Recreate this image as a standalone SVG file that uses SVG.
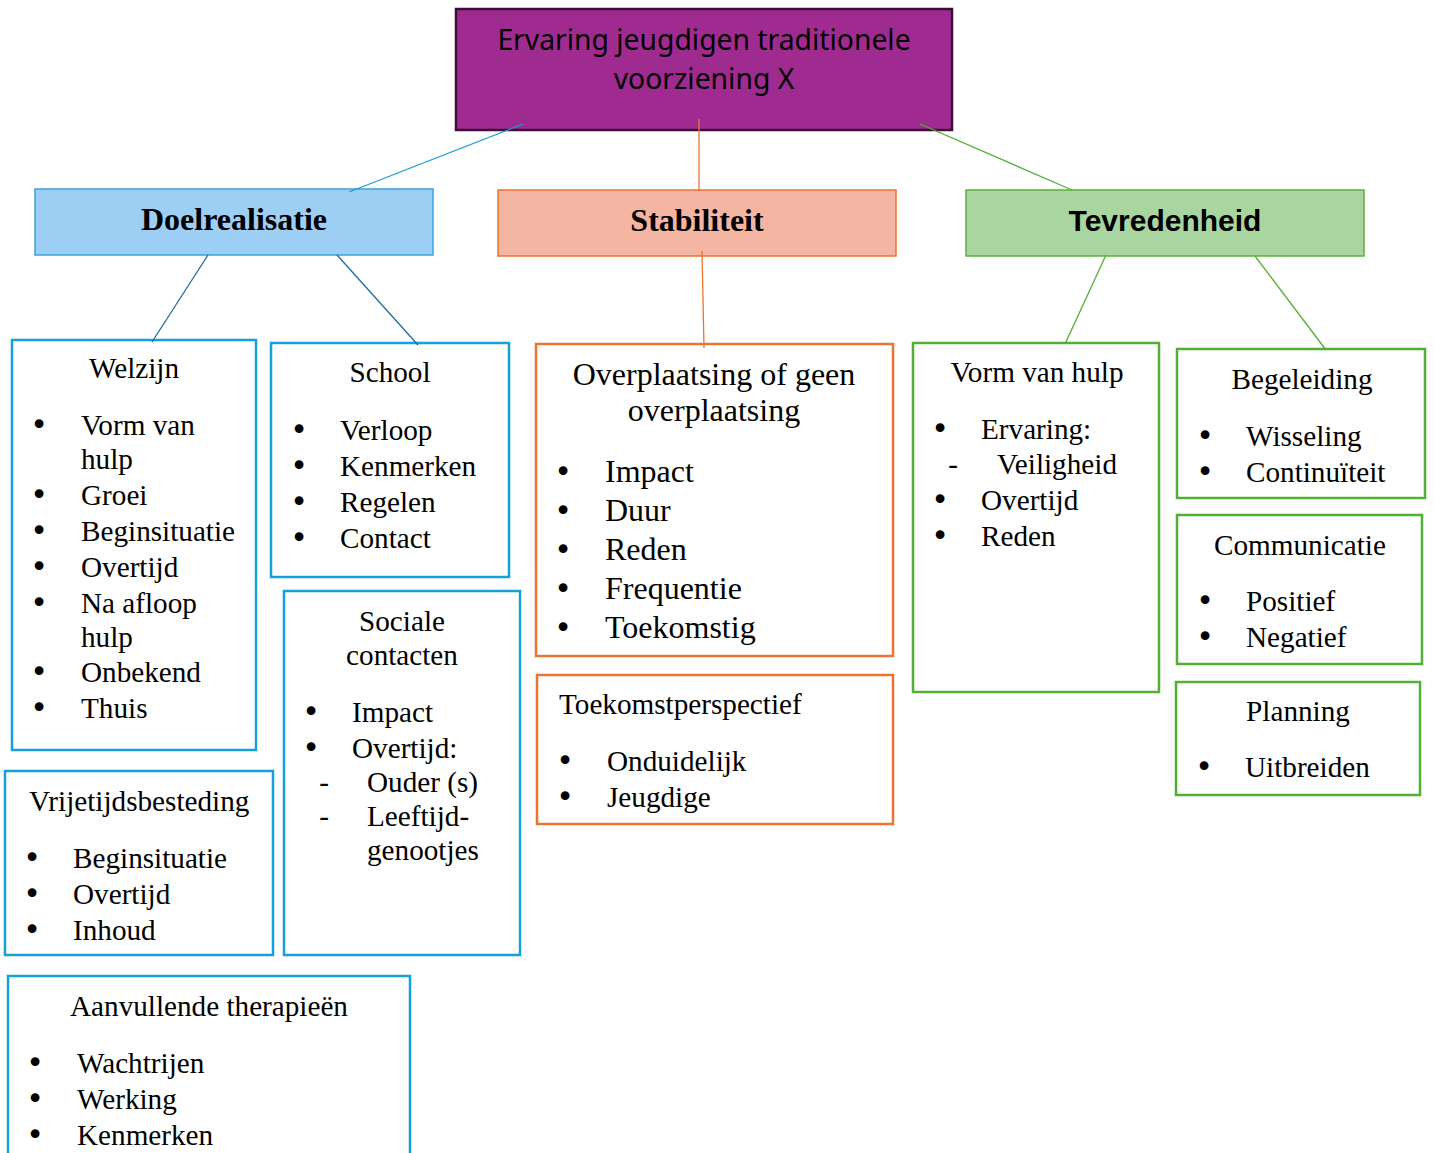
<svg xmlns="http://www.w3.org/2000/svg" width="1435" height="1153" viewBox="0 0 1435 1153">
<style>
.box{fill:#fff;stroke-width:2.5}
.b{stroke:#16A0D8}
.o{stroke:#EC7432}
.g{stroke:#53AE35}
.t{font-family:"Liberation Serif","Times New Roman",serif;font-size:29.2px;fill:#000}
.big{font-size:32px}
.c{text-anchor:middle}
.bu{font-family:"DejaVu Sans",sans-serif;font-size:30px;text-anchor:middle}
.hd{font-family:"Liberation Serif","Times New Roman",serif;font-size:32px;font-weight:bold;text-anchor:middle}
.conn line{stroke-width:1.3;fill:none}
</style>
<rect width="1435" height="1153" fill="#fff"/>
<g id="root">
<rect x="456" y="9" width="496" height="121" fill="#A02B90" stroke="#3D0F38" stroke-width="2.5"/>
<text x="704" y="50" text-anchor="middle" font-family="'Noto Sans','Open Sans',sans-serif" font-size="28.3">Ervaring jeugdigen traditionele</text>
<text x="704" y="89" text-anchor="middle" font-family="'Noto Sans','Open Sans',sans-serif" font-size="28.3">voorziening X</text>
</g>
<g id="doelrealisatie">
<rect x="35" y="189" width="398" height="66" fill="#9DCFF5" stroke="#3BA3DC" stroke-width="1.5"/>
<text class="hd" x="234" y="230">Doelrealisatie</text>
</g>
<g id="stabiliteit">
<rect x="498" y="190" width="398" height="66" fill="#F4B6A2" stroke="#EC7432" stroke-width="1.5"/>
<text class="hd" x="697" y="231">Stabiliteit</text>
</g>
<g id="tevredenheid">
<rect x="966" y="190" width="398" height="66" fill="#A9D5A0" stroke="#5DB13E" stroke-width="1.5"/>
<text x="1165" y="231" text-anchor="middle" font-family="'Liberation Sans',Arial,sans-serif" font-size="30" font-weight="bold">Tevredenheid</text>
</g>
<g id="welzijn" class="t">
<rect class="box b" x="12" y="340" width="244" height="410"/>
<text class="c" x="134" y="378">Welzijn</text>
<text class="bu" x="39" y="435">•</text><text x="81" y="435">Vorm van</text>
<text x="81" y="469">hulp</text>
<text class="bu" x="39" y="505">•</text><text x="81" y="505">Groei</text>
<text class="bu" x="39" y="541">•</text><text x="81" y="541">Beginsituatie</text>
<text class="bu" x="39" y="577">•</text><text x="81" y="577">Overtijd</text>
<text class="bu" x="39" y="613">•</text><text x="81" y="613">Na afloop</text>
<text x="81" y="647">hulp</text>
<text class="bu" x="39" y="682">•</text><text x="81" y="682">Onbekend</text>
<text class="bu" x="39" y="718">•</text><text x="81" y="718">Thuis</text>
</g>
<g id="school" class="t">
<rect class="box b" x="271" y="343" width="238" height="234"/>
<text class="c" x="390" y="382">School</text>
<text class="bu" x="299" y="440">•</text><text x="340" y="440">Verloop</text>
<text class="bu" x="299" y="476">•</text><text x="340" y="476">Kenmerken</text>
<text class="bu" x="299" y="512">•</text><text x="340" y="512">Regelen</text>
<text class="bu" x="299" y="548">•</text><text x="340" y="548">Contact</text>
</g>
<g id="sociale-contacten" class="t">
<rect class="box b" x="284" y="591" width="236" height="364"/>
<text class="c" x="402" y="631">Sociale</text>
<text class="c" x="402" y="665">contacten</text>
<text class="bu" x="311" y="722">•</text><text x="352" y="722">Impact</text>
<text class="bu" x="311" y="758">•</text><text x="352" y="758">Overtijd:</text>
<text class="c" x="324" y="792">-</text><text x="367" y="792">Ouder (s)</text>
<text class="c" x="324" y="826">-</text><text x="367" y="826">Leeftijd-</text>
<text x="367" y="860">genootjes</text>
</g>
<g id="vrijetijdsbesteding" class="t">
<rect class="box b" x="5" y="771" width="268" height="184"/>
<text x="29" y="811">Vrijetijdsbesteding</text>
<text class="bu" x="32" y="868">•</text><text x="73" y="868">Beginsituatie</text>
<text class="bu" x="32" y="904">•</text><text x="73" y="904">Overtijd</text>
<text class="bu" x="32" y="940">•</text><text x="73" y="940">Inhoud</text>
</g>
<g id="aanvullende-therapieen" class="t">
<rect class="box b" x="8" y="976" width="402" height="190"/>
<text x="70" y="1016">Aanvullende therapieën</text>
<text class="bu" x="35" y="1073">•</text><text x="77" y="1073">Wachtrijen</text>
<text class="bu" x="35" y="1109">•</text><text x="77" y="1109">Werking</text>
<text class="bu" x="35" y="1145">•</text><text x="77" y="1145">Kenmerken</text>
</g>
<g id="overplaatsing" class="t big">
<rect class="box o" x="536" y="344" width="357" height="312"/>
<text class="c" x="714" y="385">Overplaatsing of geen</text>
<text class="c" x="714" y="421">overplaatsing</text>
<text class="bu" x="563" y="482">•</text><text x="605" y="482">Impact</text>
<text class="bu" x="563" y="521">•</text><text x="605" y="521">Duur</text>
<text class="bu" x="563" y="560">•</text><text x="605" y="560">Reden</text>
<text class="bu" x="563" y="599">•</text><text x="605" y="599">Frequentie</text>
<text class="bu" x="563" y="638">•</text><text x="605" y="638">Toekomstig</text>
</g>
<g id="toekomstperspectief" class="t">
<rect class="box o" x="537" y="675" width="356" height="149"/>
<text x="559" y="714">Toekomstperspectief</text>
<text class="bu" x="565" y="771">•</text><text x="607" y="771">Onduidelijk</text>
<text class="bu" x="565" y="807">•</text><text x="607" y="807">Jeugdige</text>
</g>
<g id="vorm-van-hulp" class="t">
<rect class="box g" x="913" y="343" width="246" height="349"/>
<text class="c" x="1037" y="382">Vorm van hulp</text>
<text class="bu" x="940" y="439">•</text><text x="981" y="439">Ervaring:</text>
<text class="c" x="953" y="474">-</text><text x="997" y="474">Veiligheid</text>
<text class="bu" x="940" y="510">•</text><text x="981" y="510">Overtijd</text>
<text class="bu" x="940" y="546">•</text><text x="981" y="546">Reden</text>
</g>
<g id="begeleiding" class="t">
<rect class="box g" x="1177" y="349" width="248" height="149"/>
<text class="c" x="1302" y="389">Begeleiding</text>
<text class="bu" x="1205" y="446">•</text><text x="1246" y="446">Wisseling</text>
<text class="bu" x="1205" y="482">•</text><text x="1246" y="482">Continuïteit</text>
</g>
<g id="communicatie" class="t">
<rect class="box g" x="1177" y="515" width="245" height="149"/>
<text class="c" x="1300" y="555">Communicatie</text>
<text class="bu" x="1205" y="611">•</text><text x="1246" y="611">Positief</text>
<text class="bu" x="1205" y="647">•</text><text x="1246" y="647">Negatief</text>
</g>
<g id="planning" class="t">
<rect class="box g" x="1176" y="682" width="244" height="113"/>
<text class="c" x="1298" y="721">Planning</text>
<text class="bu" x="1204" y="777">•</text><text x="1245" y="777">Uitbreiden</text>
</g>
<g class="conn" id="connectors">
<line x1="523" y1="124" x2="349" y2="192" stroke="#16A0D8"/>
<line x1="699" y1="119" x2="699" y2="191" stroke="#EC7432"/>
<line x1="920" y1="124" x2="1072" y2="190" stroke="#53AE35"/>
<line x1="208" y1="255" x2="152" y2="342" stroke="#1A6E9C"/>
<line x1="337" y1="255" x2="418" y2="345" stroke="#1A6E9C"/>
<line x1="702" y1="251" x2="704" y2="348" stroke="#EC7432"/>
<line x1="1106" y1="255" x2="1065" y2="344" stroke="#53AE35"/>
<line x1="1255" y1="256" x2="1326" y2="350" stroke="#53AE35"/>
</g>
</svg>
